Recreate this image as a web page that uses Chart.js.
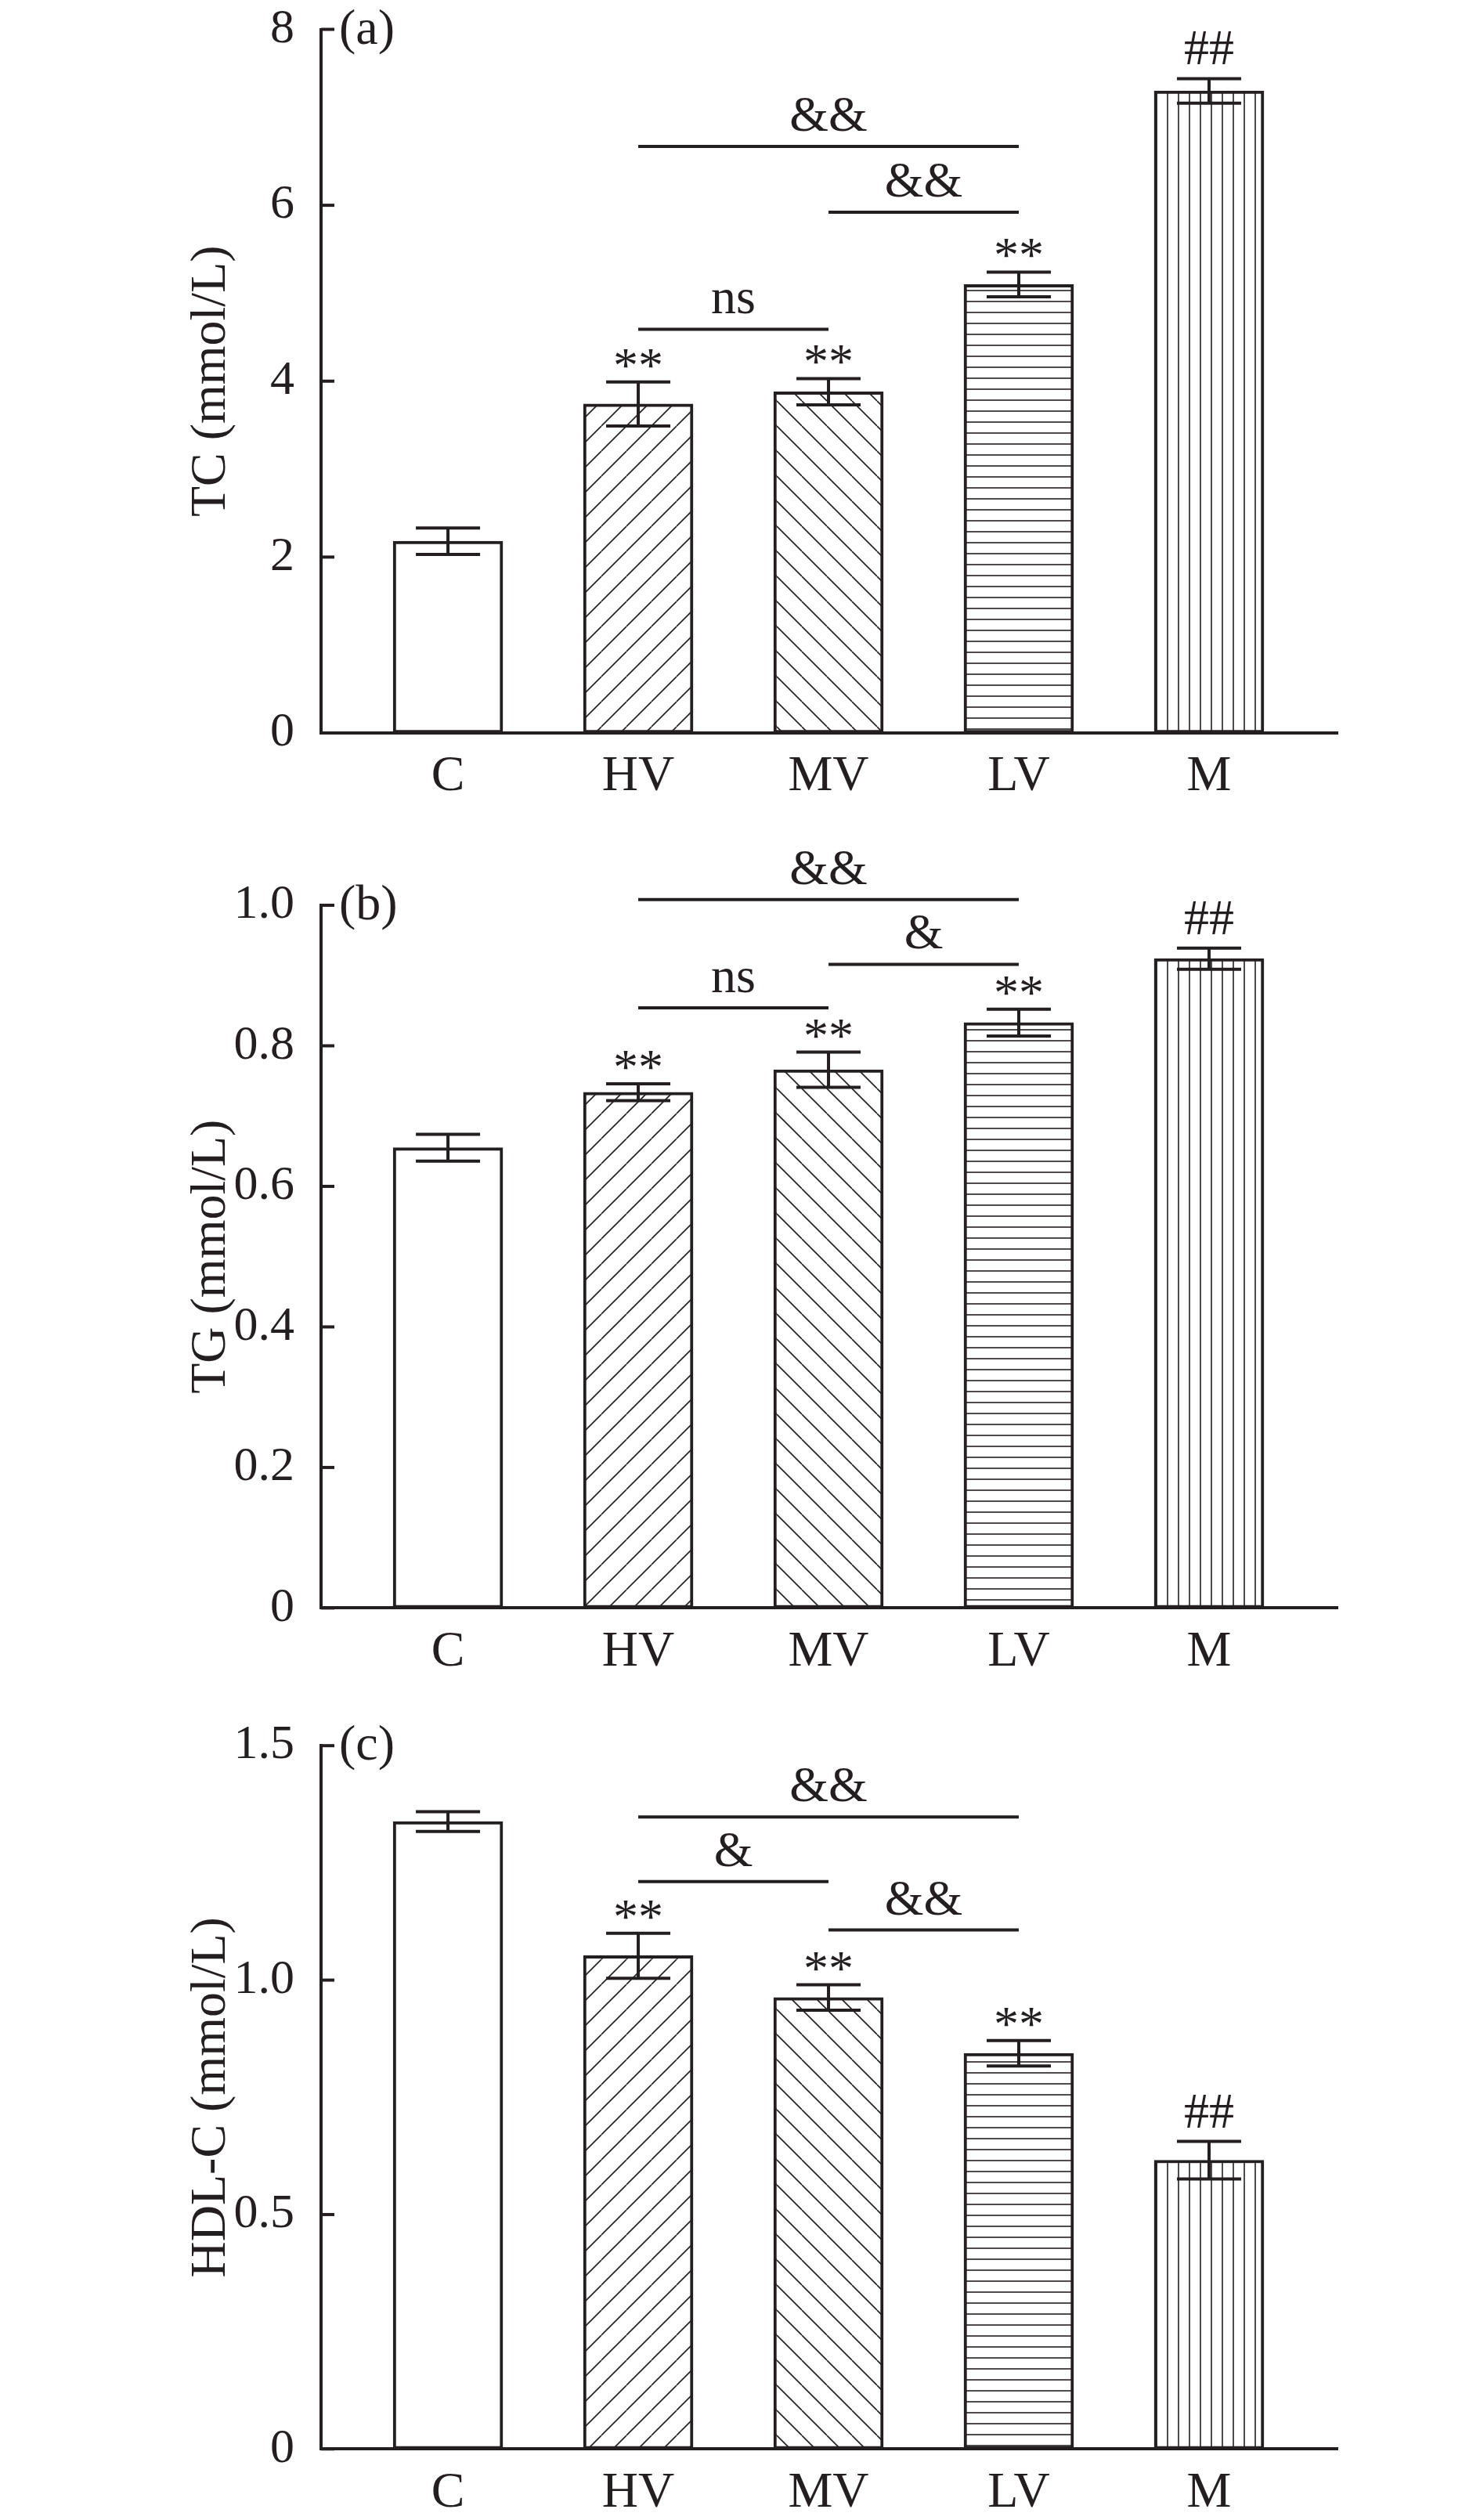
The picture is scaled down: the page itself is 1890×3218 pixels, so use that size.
<!DOCTYPE html>
<html>
<head>
<meta charset="utf-8">
<title>TC / TG / HDL-C</title>
<script src="https://cdn.jsdelivr.net/npm/chart.js@4.4.1/dist/chart.umd.min.js"></script>
<style>
    html, body { margin: 0; padding: 0; background: #fff; }
    #page { position: relative; width: 1890px; height: 3218px; }
    canvas { position: absolute; left: 0; }
</style>
</head>
<body>
<div id="page">
    <canvas id="chart-tc" width="1890" height="1080" style="top:0"></canvas>
    <canvas id="chart-tg" width="1890" height="1080" style="top:1070px"></canvas>
    <canvas id="chart-hdl" width="1890" height="1068" style="top:2150px"></canvas>
</div>
<script>
const groups = ["C", "HV", "MV", "LV", "M"];
const marks = ["", "**", "**", "**", "##"];

const tcValues = [2.18, 3.74, 3.88, 5.10, 7.30];
const tcErrors = [0.15, 0.25, 0.15, 0.14, 0.14];
const tcTicks = [0, 2, 4, 6, 8];
const tcTickLabels = ["0", "2", "4", "6", "8"];
const tcBrackets = [[1, 3, 6.67, "&&"], [2, 3, 5.92, "&&"], [1, 2, 4.59, "ns"]];

const tgValues = [0.655, 0.734, 0.766, 0.833, 0.924];
const tgErrors = [0.019, 0.012, 0.025, 0.019, 0.015];
const tgTicks = [0, 0.2, 0.4, 0.6, 0.8, 1.0];
const tgTickLabels = ["0", "0.2", "0.4", "0.6", "0.8", "1.0"];
const tgBrackets = [[1, 3, 1.008, "&&"], [2, 3, 0.916, "&"], [1, 2, 0.854, "ns"]];

const hdlValues = [1.338, 1.052, 0.963, 0.844, 0.616];
const hdlErrors = [0.021, 0.048, 0.027, 0.027, 0.040];
const hdlTicks = [0, 0.5, 1.0, 1.5];
const hdlTickLabels = ["0", "0.5", "1.0", "1.5"];
const hdlBrackets = [[1, 3, 1.348, "&&"], [1, 2, 1.210, "&"], [2, 3, 1.107, "&&"]];

const ink = "#231f20";
const serif = "'Liberation Serif', 'Times New Roman', serif";

function makePattern(ctx, size, draw) {
    const tile = document.createElement("canvas");
    tile.width = size;
    tile.height = size;
    const g = tile.getContext("2d");
    g.fillStyle = "#fff";
    g.fillRect(0, 0, size, size);
    g.strokeStyle = ink;
    g.lineWidth = 1.6;
    g.beginPath();
    draw(g, size);
    g.stroke();
    return ctx.createPattern(tile, "repeat");
}

function barFills(ctx) {
    return [
        "#fff",
        makePattern(ctx, 32, (g, s) => {
            for (let k = -1; k <= 1; k++) { g.moveTo(k * s, s); g.lineTo(k * s + s, 0); }
        }),
        makePattern(ctx, 32, (g, s) => {
            for (let k = -1; k <= 1; k++) { g.moveTo(k * s, 0); g.lineTo(k * s + s, s); }
        }),
        makePattern(ctx, 14, (g, s) => { g.moveTo(0, 7); g.lineTo(s, 7); }),
        makePattern(ctx, 14, (g, s) => { g.moveTo(7, 0); g.lineTo(7, s); })
    ];
}

function textOnTop(ctx, text, x, bottom) {
    const m = ctx.measureText(text);
    ctx.fillText(text, x, bottom - m.actualBoundingBoxDescent);
}

function extras(errors, brackets, tag) {
    return {
        id: "extras",
        afterDatasetsDraw(chart) {
            const { ctx, chartArea, scales: { x, y } } = chart;
            const points = chart.data.datasets[0].data;
            ctx.save();
            ctx.strokeStyle = ink;
            ctx.fillStyle = ink;
            ctx.lineWidth = 4;

            y.ticks.forEach((t, i) => {
                const py = y.getPixelForTick(i);
                ctx.beginPath();
                ctx.moveTo(chartArea.left, py);
                ctx.lineTo(chartArea.left + 17, py);
                ctx.stroke();
            });

            ctx.font = `64px ${serif}`;
            ctx.textAlign = "center";
            ctx.textBaseline = "alphabetic";

            points.forEach((p, i) => {
                const px = x.getPixelForValue(p.x);
                const top = y.getPixelForValue(p.y + errors[i]);
                const bottom = y.getPixelForValue(p.y - errors[i]);
                ctx.beginPath();
                ctx.moveTo(px, top);
                ctx.lineTo(px, bottom);
                ctx.moveTo(px - 41, top);
                ctx.lineTo(px + 41, top);
                ctx.moveTo(px - 41, bottom);
                ctx.lineTo(px + 41, bottom);
                ctx.stroke();
                if (marks[i]) textOnTop(ctx, marks[i], px, top - 18);
            });

            brackets.forEach(([from, to, v, label]) => {
                const x1 = x.getPixelForValue(from);
                const x2 = x.getPixelForValue(to);
                const py = y.getPixelForValue(v);
                ctx.beginPath();
                ctx.moveTo(x1, py);
                ctx.lineTo(x2, py);
                ctx.stroke();
                textOnTop(ctx, label, (x1 + x2) / 2, py - 19);
            });

            ctx.textAlign = "left";
            ctx.fillText(tag, chartArea.left + 23, chartArea.top + 18);
            ctx.restore();
        }
    };
}

function buildChart(id, values, errors, ticks, tickLabels, title, brackets, tag, area) {
    const canvas = document.getElementById(id);
    const points = groups.map((g, i) => ({ x: i, y: values[i] }));

    return new Chart(canvas, {
        type: "bar",
        data: {
            datasets: [{
                data: points,
                backgroundColor: barFills(canvas.getContext("2d")),
                borderColor: ink,
                borderWidth: 4,
                borderSkipped: false,
                barThickness: 140
            }]
        },
        options: {
            responsive: false,
            animation: false,
            layout: { padding: { top: area.top, right: 182, bottom: 0, left: 0 } },
            plugins: { legend: { display: false }, tooltip: { enabled: false } },
            scales: {
                x: {
                    type: "linear",
                    min: -0.667,
                    max: 4.675,
                    offset: false,
                    bounds: "data",
                    grid: { display: false, offset: false },
                    border: { color: ink, width: 4 },
                    afterBuildTicks: (s) => { s.ticks = groups.map((g, i) => ({ value: i })); },
                    afterFit: (s) => {
                        s.height = area.xHeight;
                        s.paddingLeft = 0;
                        s.paddingRight = 0;
                    },
                    ticks: {
                        autoSkip: false,
                        maxRotation: 0,
                        padding: 10,
                        color: ink,
                        font: { family: serif, size: 64 },
                        callback: (v, i) => groups[i]
                    }
                },
                y: {
                    min: ticks[0],
                    max: ticks[ticks.length - 1],
                    grid: { display: false },
                    border: { color: ink, width: 4 },
                    afterBuildTicks: (s) => { s.ticks = ticks.map((v) => ({ value: v })); },
                    afterFit: (s) => {
                        s.width = 410;
                        s.paddingTop = 0;
                        s.paddingBottom = 0;
                    },
                    ticks: {
                        padding: 26,
                        color: ink,
                        font: { family: serif, size: 62 },
                        callback: (v, i) => tickLabels[i]
                    },
                    title: {
                        display: true,
                        text: title,
                        color: ink,
                        font: { family: serif, size: 64 },
                        padding: { top: 232, bottom: 0 }
                    }
                }
            }
        },
        plugins: [extras(errors, brackets, tag)]
    });
}

buildChart("chart-tc", tcValues, tcErrors, tcTicks, tcTickLabels, "TC (mmol/L)", tcBrackets, "(a)",
    { top: 37.5, xHeight: 144 });
buildChart("chart-tg", tgValues, tgErrors, tgTicks, tgTickLabels, "TG (mmol/L)", tgBrackets, "(b)",
    { top: 86, xHeight: 96.6 });
buildChart("chart-hdl", hdlValues, hdlErrors, hdlTicks, hdlTickLabels, "HDL-C (mmol/L)", hdlBrackets, "(c)",
    { top: 79.2, xHeight: 90.7 });
</script>
</body>
</html>
